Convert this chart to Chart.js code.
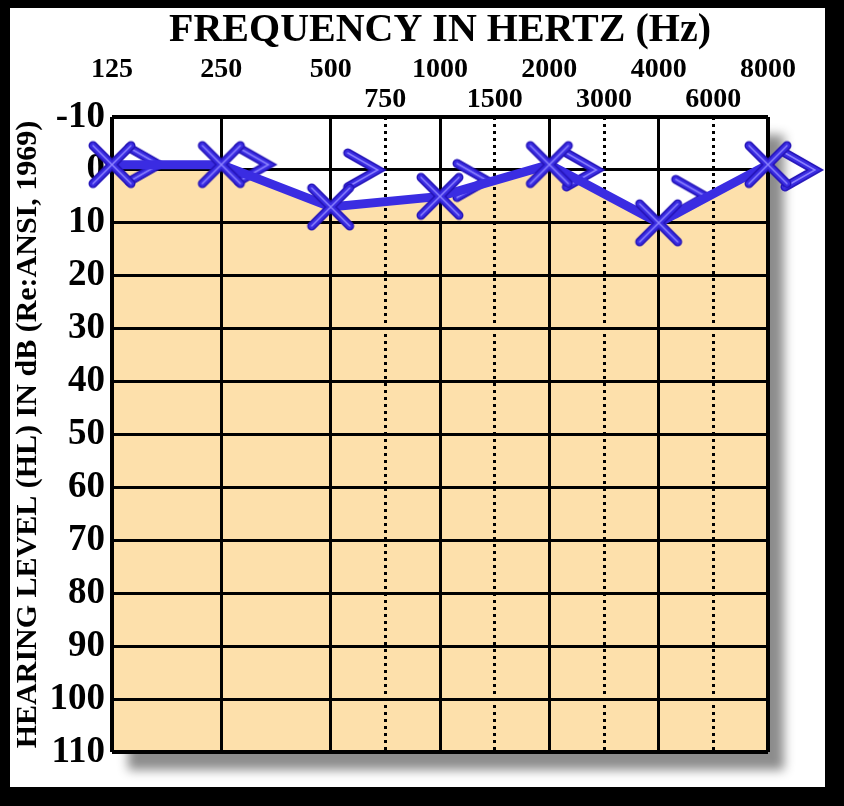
<!DOCTYPE html>
<html>
<head>
<meta charset="utf-8">
<script src="https://cdn.jsdelivr.net/npm/chart.js@4.4.0/dist/chart.umd.min.js"></script>
<style>
  html, body { margin: 0; padding: 0; background: #000; }
  #wrap { position: absolute; left: 10px; top: 8px; width: 815px; height: 779px; background: #fff; }
</style>
</head>
<body>
<div id="wrap"><canvas id="audiogram"></canvas></div>
<script>
// frecuencias de octava y de media octava (Hz)
const octaveFreqs = ['125', '250', '500', '1000', '2000', '4000', '8000'];
const midFreqs = ['750', '1500', '3000', '6000'];
// umbrales en dB HL: via aerea (X) y via osea (>)
const airLevels = [-1, -1, 7, 5, -1, 10, -1];
const boneLevels = [-1, -1, 0, 2, 0, 5, 0];
// niveles del eje vertical
const levelTicks = [-10, 0, 10, 20, 30, 40, 50, 60, 70, 80, 90, 100, 110];

// las medias octavas van entre dos octavas (750 = 500 * 1.5)
const midPos = midFreqs.map(f => octaveFreqs.indexOf(String(f / 1.5)) + 0.5);

const serif = '"Liberation Serif", "DejaVu Serif", serif';
const blueDark = '#2414b8';
const blue = '#3a2ce2';
const blueLight = '#8c82ff';

function strokeLayers(g, path) {
  [[blueDark, 9], [blue, 6], [blueLight, 1.5]].forEach(([col, w]) => {
    g.strokeStyle = col;
    g.lineWidth = w;
    g.beginPath();
    path(g);
    g.stroke();
  });
}

// marcador X
function makeCross() {
  const c = document.createElement('canvas');
  c.width = 50; c.height = 50;
  const g = c.getContext('2d');
  g.lineCap = 'round';
  const s = 19;
  strokeLayers(g, p => {
    p.moveTo(25 - s, 25 - s); p.lineTo(25 + s, 25 + s);
    p.moveTo(25 + s, 25 - s); p.lineTo(25 - s, 25 + s);
  });
  return c;
}

// marcador > (desplazado a la derecha de la frecuencia)
function makeChevron() {
  const c = document.createElement('canvas');
  c.width = 114; c.height = 50;
  const g = c.getContext('2d');
  g.lineCap = 'round';
  g.lineJoin = 'miter';
  strokeLayers(g, p => {
    p.moveTo(57 + 17, 25 - 17);
    p.lineTo(57 + 47, 25);
    p.lineTo(57 + 17, 25 + 17);
  });
  return c;
}

const plotShadow = {
  id: 'plotShadow',
  beforeDraw(chart) {
    const { ctx, chartArea: a } = chart;
    ctx.save();
    ctx.globalCompositeOperation = 'destination-over';
    ctx.fillStyle = '#fff';
    ctx.fillRect(a.left, a.top, a.right - a.left, a.bottom - a.top);
    ctx.shadowColor = 'rgba(0,0,0,0.45)';
    ctx.shadowBlur = 10;
    ctx.shadowOffsetX = 16;
    ctx.shadowOffsetY = 18;
    ctx.fillRect(a.left, a.top, a.right - a.left, a.bottom - a.top);
    ctx.restore();
  }
};

const edgeWidth = (last) => (c) => (c.index === 0 || c.index === last) ? 4 : 3;

new Chart(document.getElementById('audiogram'), {
  type: 'line',
  data: {
    datasets: [
      {
        label: 'Vía aérea',
        data: airLevels.map((v, i) => ({ x: i, y: v })),
        borderColor: blue,
        borderWidth: 9,
        backgroundColor: '#fde0ab',
        fill: { value: 110 },
        pointStyle: makeCross(),
        pointRadius: 20,
        clip: false
      },
      {
        label: 'Vía ósea',
        data: boneLevels.map((v, i) => ({ x: i, y: v })),
        showLine: false,
        fill: false,
        pointStyle: makeChevron(),
        pointRadius: 20,
        clip: false
      }
    ]
  },
  options: {
    responsive: true,
    maintainAspectRatio: false,
    animation: false,
    layout: { padding: { left: 0, top: 0, right: 57, bottom: 35 } },
    plugins: {
      legend: { display: false },
      tooltip: { enabled: false },
      filler: { drawTime: 'beforeDraw' },
      title: {
        display: true,
        text: 'FREQUENCY IN HERTZ (Hz)',
        fullSize: false,
        color: '#000',
        padding: 0,
        font: { family: serif, size: 40, weight: 'bold', lineHeight: 1.15 }
      }
    },
    scales: {
      x: {
        type: 'linear',
        position: 'top',
        min: 0, max: 6,
        weight: 1,
        afterBuildTicks: s => { s.ticks = octaveFreqs.map((f, i) => ({ value: i })); },
        afterFit: s => { s.height = 33; },
        ticks: {
          callback: (v, i) => octaveFreqs[i],
          color: '#000',
          padding: 0,
          maxRotation: 0,
          autoSkip: false,
          font: { family: serif, size: 28, weight: 'bold' }
        },
        grid: { color: '#000', lineWidth: edgeWidth(6), drawTicks: false },
        border: { display: false }
      },
      x2: {
        type: 'linear',
        axis: 'x',
        position: 'top',
        min: 0, max: 6,
        weight: 0,
        afterBuildTicks: s => { s.ticks = midPos.map(v => ({ value: v })); },
        afterFit: s => { s.height = 30; },
        ticks: {
          callback: (v, i) => midFreqs[i],
          color: '#000',
          padding: 0,
          maxRotation: 0,
          autoSkip: false,
          font: { family: serif, size: 28, weight: 'bold' }
        },
        grid: { color: '#000', lineWidth: 3, drawTicks: false },
        border: { display: false, dash: [3, 4] }
      },
      y: {
        type: 'linear',
        reverse: true,
        min: -10, max: 110,
        afterBuildTicks: s => { s.ticks = levelTicks.map(v => ({ value: v })); },
        afterFit: s => { s.width = 102; },
        ticks: {
          callback: v => String(v),
          color: '#000',
          padding: 7,
          font: { family: serif, size: 37, weight: 'bold' }
        },
        grid: { color: '#000', lineWidth: edgeWidth(12), drawTicks: false },
        border: { display: false },
        title: {
          display: true,
          text: 'HEARING LEVEL (HL) IN dB (Re:ANSI, 1969)',
          color: '#000',
          padding: 0,
          font: { family: serif, size: 30, weight: 'bold' }
        }
      }
    }
  },
  plugins: [plotShadow]
});
</script>
</body>
</html>
